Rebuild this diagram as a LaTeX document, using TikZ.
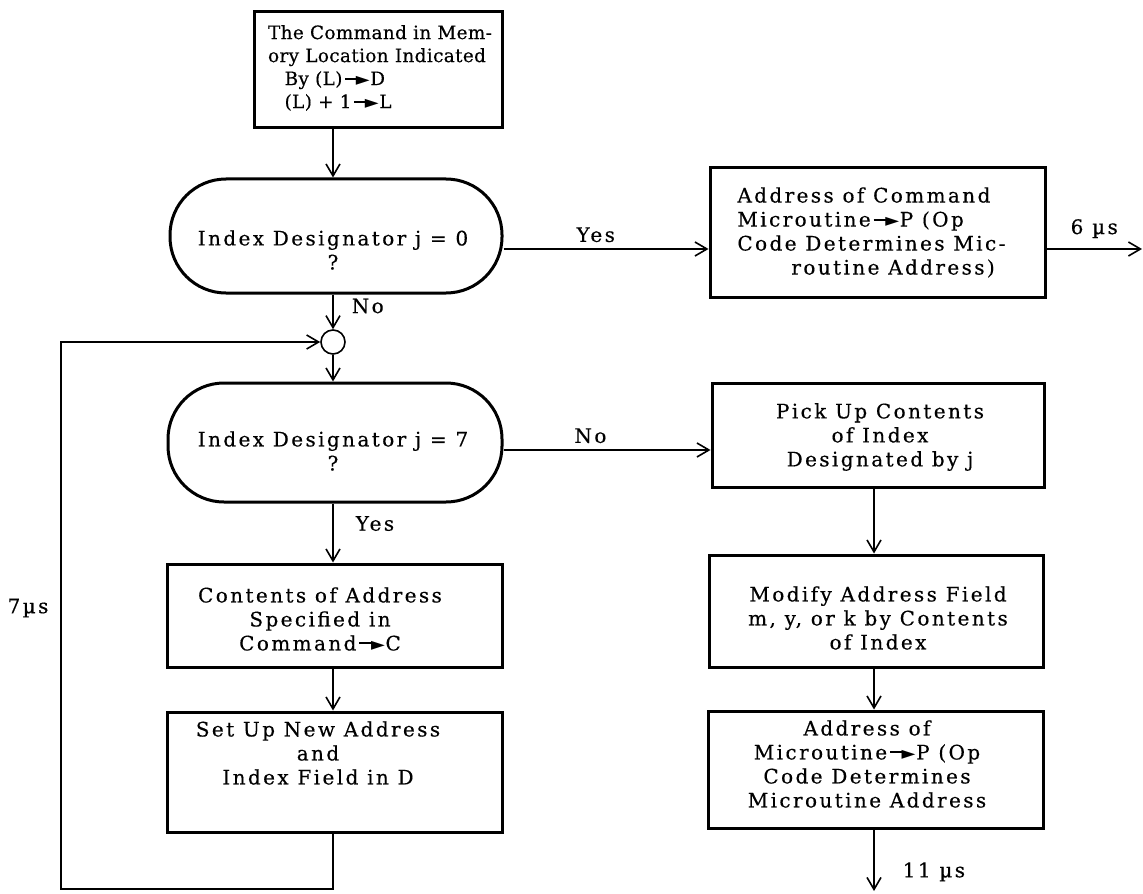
\documentclass[tikz,border=0pt]{standalone}
\usepackage{fontspec}
\setmainfont{DejaVu Serif}[LetterSpace=12,FakeBold=0.4]
\newfontfamily\tipfont{DejaVu Sans}
\usetikzlibrary{arrows.meta}
% short transfer arrow used inside the box texts
\newcommand\into{\kern0.15em\rule[0.3em]{0.7em}{0.1em}\kern-0.12em{\tipfont\fontsize{9}{9}\selectfont\char"25BA}\kern0.03em}

\begin{document}
\begin{tikzpicture}[x=0.5pt,y=-0.5pt,
  font=\fontsize{10}{12}\selectfont,
  stepbox/.style={draw, line width=1.5pt, inner sep=0pt},
  decision/.style={draw, line width=1.5pt, rounded corners=28pt, inner sep=0pt},
  txt/.style={inner sep=0pt, align=center},
  flow/.style={line width=0.8pt, -{Straight Barb[length=6pt,width=7pt]}}]
\useasboundingbox (0,0) rectangle (1143,893);

% ---- boxes ----
\node[stepbox, minimum width=124pt, minimum height=58pt] (fetch) at (378,70) {};
\node[txt, align=left, font=\fontsize{9.2}{11.5}\selectfont\addfontfeatures{LetterSpace=2}] (fetcht) at (380,68)
  {The Command in Mem-\\ory Location Indicated\\\hspace*{0.9em}By (L)\into D\\\hspace*{0.9em}(L) + 1\into L};

\node[decision, minimum width=166pt, minimum height=57pt] (dz) at (336,236) {};
\node[txt] (dzt) at (333,250) {Index Designator j = 0\\?};

\node[stepbox, minimum width=167.5pt, minimum height=64.5pt] (cmd) at (877.5,232.5) {};
\node[txt, align=left, anchor=west] (cmdt) at (737,232.5)
  {Address of Command\\Microutine\into P (Op\\Code Determines Mic-\\\hspace*{2.7em}routine Address)};

\node[draw, circle, line width=0.8pt, minimum size=12pt, inner sep=0pt] (join) at (333,342) {};

\node[decision, minimum width=167pt, minimum height=59.5pt] (ds) at (335,442.5) {};
\node[txt] (dst) at (333,451) {Index Designator j = 7\\?};

\node[stepbox, minimum width=166pt, minimum height=52pt] (pick) at (878,435) {};
\node[txt] (pickt) at (880,437) {Pick Up Contents\\of Index\\Designated by j};

\node[stepbox, minimum width=167pt, minimum height=56pt] (mod) at (876,611) {};
\node[txt] (modt) at (878,618) {Modify Address Field\\m, y, or k by Contents\\of Index};

\node[stepbox, minimum width=167.5pt, minimum height=58.5pt] (micro) at (875.5,769.5) {};
\node[txt] (microt) at (867,764) {Address of\\Microutine\into P (Op\\Code Determines\\Microutine Address};

\node[stepbox, minimum width=167.5pt, minimum height=51.5pt] (oper) at (334.5,615.5) {};
\node[txt] (opert) at (320,619) {Contents of Address\\Specified in\\Command\into C};

\node[stepbox, minimum width=167.5pt, minimum height=60pt] (newad) at (334.5,772) {};
\node[txt] (newadt) at (318,753) {Set Up New Address\\and\\Index Field in D};

\node[txt] (t7) at (28,608) {7µs};

% ---- connectors ----
\coordinate (spine) at (333,0);
\coordinate (rspine) at (874,0);
\coordinate (yesrow) at (0,249);
\coordinate (norow) at (0,450);
\coordinate (out6) at (1142,249);
\coordinate (out11) at (874,891);
\coordinate (loopbot) at (61,889);

\draw[flow] (fetch.south -| spine) -- (dz.north -| spine);
\draw[flow] (dz.east |- yesrow) -- (cmd.west |- yesrow)
  node[pos=0.45, above=3pt, inner sep=0pt] {Yes};
\draw[flow] (cmd.east |- out6) -- (out6)
  node[midway, above=5pt, inner sep=0pt] {6 µs};
\draw[flow] (dz.south -| spine) -- (join.north)
  node[pos=0.33, right=9pt, inner sep=0pt] {No};
\draw[flow] (join.south) -- (ds.north -| spine);
\draw[flow] (ds.east |- norow) -- (pick.west |- norow)
  node[pos=0.42, above=3pt, inner sep=0pt] {No};
\draw[flow] (ds.south -| spine) -- (oper.north -| spine)
  node[pos=0.34, right=11pt, inner sep=0pt] {Yes};
\draw[flow] (oper.south -| spine) -- (newad.north -| spine);
\draw[flow] (pick.south -| rspine) -- (mod.north -| rspine);
\draw[flow] (mod.south -| rspine) -- (micro.north -| rspine);
\draw[flow] (micro.south -| rspine) -- (out11)
  node[pos=0.69, right=14pt, inner sep=0pt] {11 µs};
\draw[flow] (newad.south -| spine) |- (loopbot) |- (join.west);
\end{tikzpicture}
\end{document}
